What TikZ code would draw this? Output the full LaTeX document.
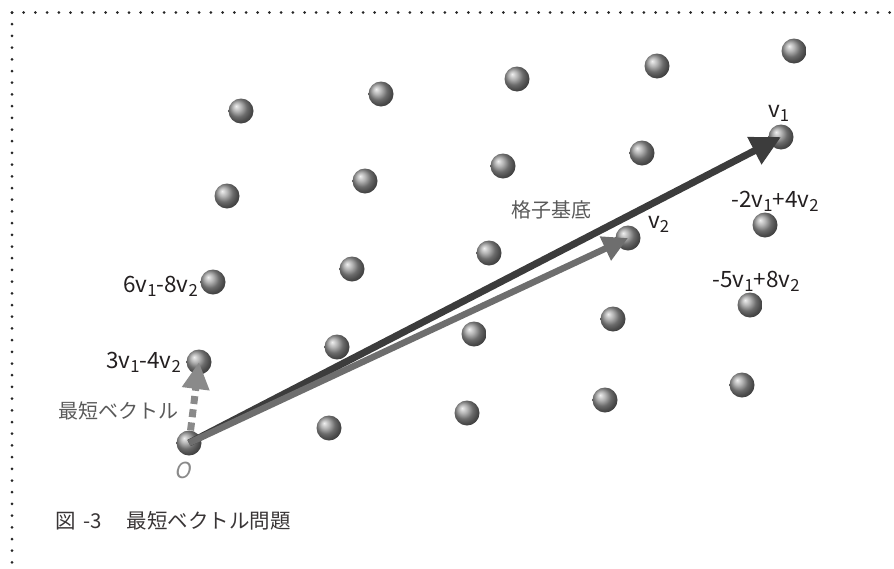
\documentclass[tikz,border=0pt]{standalone}
\usepackage{fontspec}
\usepackage{graphicx}
\setmainfont{Noto Sans CJK JP}
\newfontfamily\slantfont{Noto Sans CJK JP}[FakeSlant=0.2]
\usetikzlibrary{arrows.meta}
\definecolor{darkarrow}{HTML}{3C3C3C}
\definecolor{midarrow}{HTML}{6E6E6E}
\definecolor{lightarrow}{HTML}{8A8A8A}
\definecolor{labeltext}{HTML}{231F20}
\definecolor{softtext}{HTML}{595959}
\newcommand{\lowsub}[1]{\raisebox{-0.38ex}{\scalebox{0.74}{#1}}}
\tikzset{
  sphere/.style={circle, inner sep=0pt, minimum size=25pt, ball color=gray!80},
  lbl/.style={inner sep=0pt, text=labeltext, font=\fontsize{22.5}{24}\selectfont},
  jlbl/.style={inner sep=0pt, text=softtext, font=\fontsize{20}{22}\selectfont},
  border/.style={line width=3pt, line cap=round, dash pattern=on 0pt off 11.7pt, black!85},
}
\begin{document}
\begin{tikzpicture}[x=1pt, y=-1pt]
\path[use as bounding box] (0,0) rectangle (894,568);
% dotted frame
\coordinate (corner) at (12,12.5);
\coordinate (topend) at (894,12.5);
\coordinate (leftend) at (12,568);
\draw[border] (corner) -- (topend);
\draw[border] (corner) -- (leftend);
% lattice points
\foreach \n/\x/\y in {
  a1/241/111, a2/381/94, a3/517/79, a4/657/66, a5/794/51,
  b1/227/196, b2/365/181, b3/503/166, b4/642/153, v1/781/137,
  c1/213/282, c2/352/269, c3/489/253, v2/628/238, c5/765/225,
  d1/199/362, d2/337/347, d3/474/334, d4/613/319, d5/750/305,
  O/189/443, e2/329/428, e3/467/413, e4/605/400, e5/742/385}
  {\node[sphere] (\n) at (\x,\y) {};}
% basis arrows
\draw[darkarrow, line width=7pt, -{Triangle[length=30pt,width=29pt]}] (O.center) -- (v1.center);
\draw[midarrow, line width=6.5pt, -{Triangle[length=25pt,width=25pt]}] (O.center) -- (v2.center);
% shortest vector
\draw[lightarrow, line width=7pt, dash pattern=on 8pt off 5.3pt, -{Triangle[length=27pt,width=26pt]}] (O) -- (d1.center);
% labels
\node[lbl, anchor=base west] (lv1) at (768,117) {v\lowsub{1}};
\node[lbl, anchor=base west] (lv2) at (648,228) {v\lowsub{2}};
\node[lbl, anchor=base] (lc5) at (775,207) {-2v\lowsub{1}+4v\lowsub{2}};
\node[lbl, anchor=base] (ld5) at (756,287) {-5v\lowsub{1}+8v\lowsub{2}};
\node[lbl, anchor=base east] (lc1) at (198,292) {6v\lowsub{1}-8v\lowsub{2}};
\node[lbl, anchor=base east] (ld1) at (181,368) {3v\lowsub{1}-4v\lowsub{2}};
\node[jlbl] (short) at (118,411) {最短ベクトル};
\node[jlbl] (basis) at (551,210) {格子基底};
\node[inner sep=0pt, text=lightarrow, font=\fontsize{22}{24}\selectfont\slantfont] (lO) at (183,470) {O};
\node[inner sep=0pt, anchor=west, text=labeltext!90, font=\fontsize{20.5}{22}\selectfont] (cap) at (55,521) {図\hspace{0.4em}-3\hspace{1.2em}最短ベクトル問題};
\end{tikzpicture}
\end{document}
